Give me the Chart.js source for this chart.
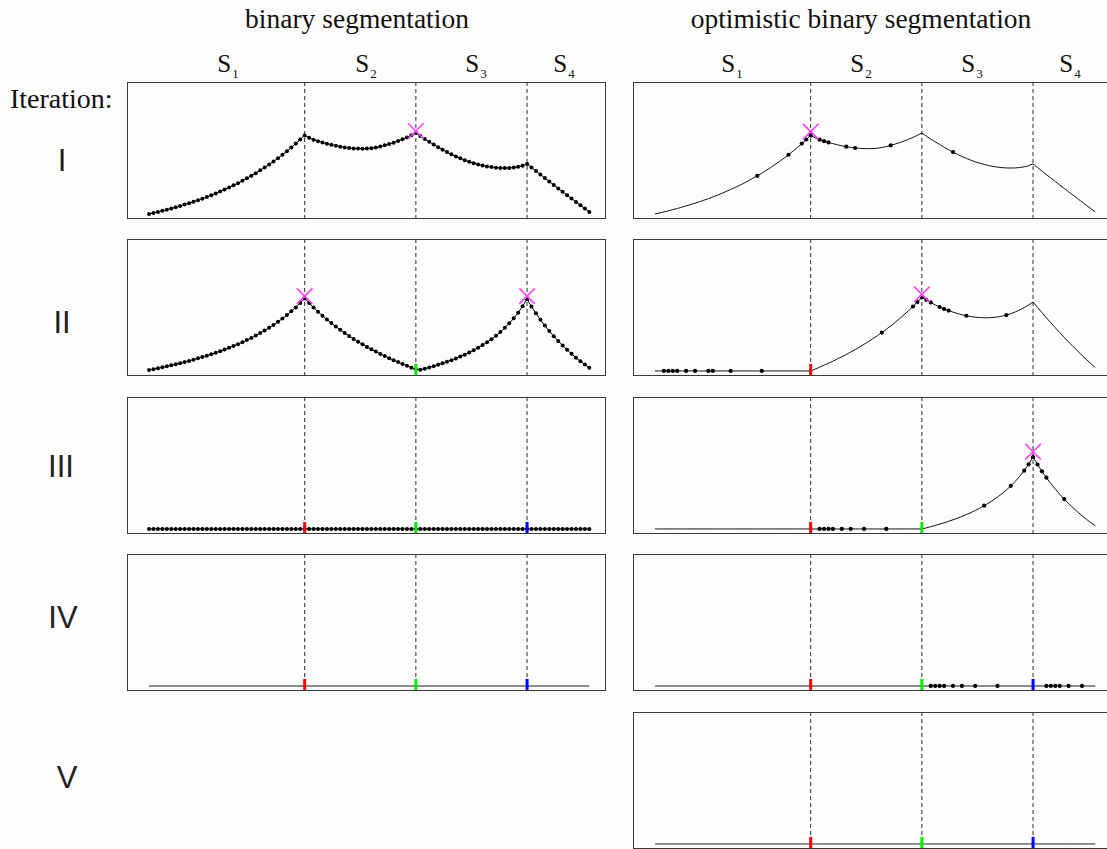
<!DOCTYPE html>
<html>
<head>
<meta charset="utf-8">
<script src="https://cdn.jsdelivr.net/npm/chart.js@4.4.0/dist/chart.umd.min.js"></script>
<style>
  body { margin:0; width:1107px; height:849px; overflow:hidden; background:#fdfdfd; position:relative;
         font-family:"Liberation Serif","Times New Roman",serif; color:#111; }
  canvas { position:absolute; }
  .t { position:absolute; white-space:nowrap; line-height:1; }
  .title { font-size:27.5px; top:5px; transform:translateX(-50%); }
  .seg { font-size:25px; top:51px; transform:translateX(-50%); }
  .seg sub { font-size:13px; vertical-align:baseline; position:relative; top:6px; margin-left:1px; }
  .iter { font-size:28px; left:10px; top:85px; }
  .roman { font-family:"Liberation Sans",Arial,sans-serif; font-size:31px; color:#222; transform:translateX(-50%); }
</style>
</head>
<body>
<script>
// --- Data: cost of splitting at each data index (0..99) ---
// whole sequence (iteration I, both columns)
const costAll = [
  0, 1.0, 2.0, 3.1, 4.3, 5.4, 6.7, 8.0, 9.3, 10.7, 12.1, 13.7, 15.2, 16.9, 18.6, 20.4, 22.3, 24.3,
  26.3, 28.4, 30.6, 33.0, 35.4, 37.9, 40.5, 43.3, 46.1, 49.1, 52.2, 55.4, 58.8, 62.3, 66.0, 69.9, 73.9, 78.0,
  75.6, 73.7, 72.3, 71.0, 69.8, 68.7, 67.7, 66.8, 66.1, 65.5, 65.1, 64.9, 64.8, 64.9, 65.3, 65.9, 66.9,
  68.1, 69.4, 70.8, 72.4, 74.1, 76.0, 78.1, 80.4,
  77.3, 74.4, 71.6, 68.9, 66.3, 63.8, 61.4, 59.2, 57.1, 55.2, 53.4, 51.8, 50.4, 49.2, 48.1, 47.2, 46.5,
  46.0, 45.7, 45.6, 45.7, 46.1, 46.8, 47.9, 49.7,
  46.1, 42.6, 39.1, 35.6, 32.2, 28.8, 25.4, 22.0, 18.6, 15.3, 11.9, 8.6, 5.3, 2.0
];
// S1+S2 block, indices 0..60
const costS12 = [
  0.9, 1.7, 2.6, 3.6, 4.6, 5.6, 6.6, 7.7, 8.8, 10.0, 11.2, 12.5, 13.8, 15.2, 16.6, 18.1, 19.6, 21.3,
  23.0, 24.8, 26.6, 28.6, 30.7, 32.8, 35.1, 37.6, 40.1, 42.8, 45.7, 48.8, 52.0, 55.5, 59.2, 63.1, 67.4, 72.0,
  67.4, 63.0, 58.8, 54.8, 51.1, 47.5, 44.1, 40.8, 37.7, 34.7, 31.8, 29.1, 26.5, 23.9, 21.5, 19.2, 16.9,
  14.8, 12.7, 10.7, 8.8, 6.9, 5.1, 3.3, 1.6
];
// S3+S4 block, indices 61..99
const costS34 = [
  1.1, 2.3, 3.5, 4.8, 6.1, 7.6, 9.1, 10.7, 12.4, 14.3, 16.2, 18.3, 20.6, 23.1, 25.7, 28.5, 31.6, 35.0,
  38.7, 42.8, 47.3, 52.3, 57.9, 64.2, 71.3,
  64.0, 57.2, 50.9, 45.1, 39.6, 34.5, 29.7, 25.2, 21.0, 17.0, 13.2, 9.6, 6.3, 3.1
];
// S2+S3+S4 block, indices 36..99
const costS234 = [
  1.8, 3.7, 5.7, 7.7, 9.7, 11.9, 14.1, 16.4, 18.8, 21.2, 23.8, 26.5, 29.2, 32.1, 35.0, 38.1, 41.4,
  44.7, 48.2, 51.9, 55.8, 59.8, 64.0, 68.4, 73.0,
  70.6, 68.0, 65.6, 63.5, 61.6, 59.9, 58.4, 57.0, 55.8, 54.8, 54.0, 53.4, 53.0, 52.8, 52.8, 53.1, 53.6,
  54.4, 55.5, 56.9, 58.6, 60.6, 62.9, 65.5, 68.4,
  63.1, 57.9, 52.8, 47.8, 42.9, 38.1, 33.4, 28.8, 24.3, 19.9, 15.6, 11.4, 7.3, 3.3
];
const flat = new Array(100).fill(0);

const changepoints = [35, 60, 85];
const segLabels = ['1', '2', '3', '4'];
const iterLabels = ['I', 'II', 'III', 'IV', 'V'];
const colTitles = ['binary segmentation', 'optimistic binary segmentation'];

// indices evaluated by the optimistic search, per iteration
const optEval1 = [23, 30, 33, 34, 35, 37, 38, 39, 43, 45, 53, 67];
const optEval2 = [2, 3, 4, 5, 7, 9, 12, 13, 17, 24, 51, 58, 59, 60, 61, 62, 64, 65, 66, 70, 79];
const optEval3 = [37, 38, 39, 40, 42, 44, 47, 52, 74, 80, 83, 84, 85, 86, 87, 88, 92];
const optEval4 = [62, 63, 64, 65, 67, 69, 72, 77, 88, 89, 90, 91, 93, 96];

// chosen split (index, height of the cross)
const binPicks = [[[60, 82.3]], [[35, 74.3], [85, 74.3]], [], []];
const optPicks = [[[35, 81.7]], [[60, 76]], [[85, 76.7]], [], []];
// changepoints already found (coloured ticks)
const binFound = [[], [60], [35, 60, 85], [35, 60, 85]];
const optFound = [[], [35], [35, 60], [35, 60, 85], [35, 60, 85]];

// --- Layout ---
const COL_X = [127, 633];
const ROW_Y = [82, 239, 397, 554, 712];
const PW = 479, PH = 137;
const tickColors = ['#ff0000', '#00ee00', '#0000ff'];

const frame = {
  id: 'frame',
  afterDraw(chart) {
    const { ctx, chartArea: a } = chart;
    ctx.save();
    ctx.strokeStyle = '#3a3a3a';
    ctx.lineWidth = 1;
    ctx.strokeRect(a.left + 0.5, a.top + 0.5, a.right - a.left - 1, a.bottom - a.top - 1);
    ctx.restore();
  }
};

function addText(html, cls, x, y) {
  const d = document.createElement('div');
  d.className = 't ' + cls;
  d.innerHTML = html;
  d.style.left = x + 'px';
  if (y !== undefined) d.style.top = y + 'px';
  document.body.appendChild(d);
}

function panel(col, row, spec) {
  const cv = document.createElement('canvas');
  cv.width = PW; cv.height = PH;
  cv.style.left = COL_X[col] + 'px';
  cv.style.top = ROW_Y[row] + 'px';
  document.body.appendChild(cv);

  const dotSet = new Set(spec.dots === 'all' ? spec.values.map((v, i) => i) : (spec.dots || []));
  const datasets = [];

  datasets.push({
    data: spec.picks.map(([x, y]) => ({ x, y })),
    showLine: false, pointStyle: 'crossRot', pointRadius: 11,
    pointBorderColor: '#f545f5', pointBackgroundColor: 'transparent', pointBorderWidth: 1.6
  });
  spec.found.forEach(cp => datasets.push({
    data: [{ x: cp, y: -5 }, { x: cp, y: 7 }],
    showLine: true, borderColor: tickColors[changepoints.indexOf(cp)], borderWidth: 3, pointRadius: 0
  }));
  datasets.push({
    data: spec.values.map((v, i) => ({ x: i, y: v })),
    showLine: true, borderColor: spec.color, borderWidth: spec.width,
    pointRadius: ctx => dotSet.has(ctx.dataIndex) ? spec.r : 0,
    pointBackgroundColor: '#000', pointBorderColor: '#000', pointBorderWidth: 0
  });
  changepoints.forEach(cp => datasets.push({
    data: [{ x: cp, y: -5 }, { x: cp, y: 131 }],
    showLine: true, borderColor: '#2a2a2a', borderWidth: 1, borderDash: [4, 3], pointRadius: 0
  }));

  new Chart(cv, {
    type: 'scatter',
    data: { datasets },
    options: {
      responsive: false, animation: false, devicePixelRatio: 1, events: [],
      layout: { padding: 0, autoPadding: false },
      elements: { line: { tension: 0 } },
      plugins: { legend: { display: false }, tooltip: { enabled: false } },
      scales: {
        x: { type: 'linear', min: -4.95, max: 102.75, display: false },
        y: { type: 'linear', min: -5, max: 131, display: false }
      }
    },
    plugins: [frame]
  });
}

// binary segmentation column
panel(0, 0, { values: costAll, dots: 'all', r: 2, color: '#000', width: 1, picks: binPicks[0], found: binFound[0] });
panel(0, 1, { values: costS12.concat(costS34), dots: 'all', r: 2, color: '#000', width: 1, picks: binPicks[1], found: binFound[1] });
panel(0, 2, { values: flat, dots: 'all', r: 2, color: '#000', width: 1, picks: binPicks[2], found: binFound[2] });
panel(0, 3, { values: flat, dots: null, r: 0, color: '#8c8c8c', width: 2, picks: binPicks[3], found: binFound[3] });

// optimistic binary segmentation column
panel(1, 0, { values: costAll, dots: optEval1, r: 2.1, color: '#111', width: 1, picks: optPicks[0], found: optFound[0] });
panel(1, 1, { values: flat.slice(0, 36).concat(costS234), dots: optEval2, r: 2.1, color: '#111', width: 1, picks: optPicks[1], found: optFound[1] });
panel(1, 2, { values: flat.slice(0, 61).concat(costS34), dots: optEval3, r: 2.1, color: '#111', width: 1, picks: optPicks[2], found: optFound[2] });
panel(1, 3, { values: flat, dots: optEval4, r: 2.1, color: '#8c8c8c', width: 2, picks: optPicks[3], found: optFound[3] });
panel(1, 4, { values: flat, dots: null, r: 0, color: '#222', width: 1, picks: optPicks[4], found: optFound[4] });

// --- Text ---
addText(colTitles[0], 'title', 357);
addText(colTitles[1], 'title', 861);
const segX = [[228, 366, 476, 564], [732, 861, 972, 1070]];
segX.forEach(xs => xs.forEach((x, k) => addText('S<sub>' + segLabels[k] + '</sub>', 'seg', x)));
addText('Iteration:', 'iter', 10);
const romanX = [62, 62, 61, 63, 67];
const romanY = [160, 322, 466, 617, 777];
iterLabels.forEach((s, k) => addText(s, 'roman', romanX[k], romanY[k] - 15));
</script>
</body>
</html>
